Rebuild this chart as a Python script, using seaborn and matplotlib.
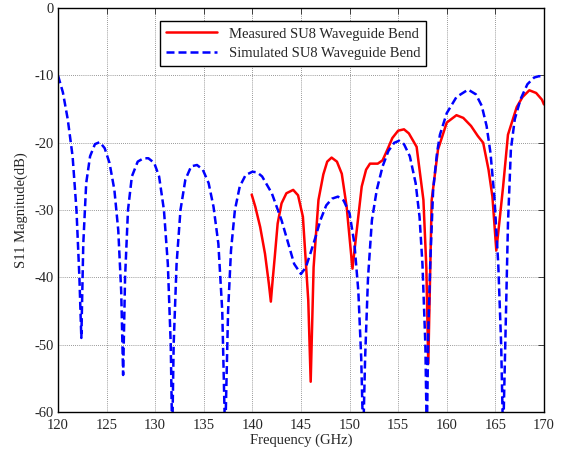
import numpy as np
import pandas as pd
import seaborn as sns
import matplotlib.pyplot as plt

# Simulated S11
sim_freq = [120.0, 120.5, 121.0, 121.5, 121.9, 122.2, 122.4,
            122.6, 122.9, 123.3, 123.8, 124.3, 124.8, 125.3, 125.8, 126.2, 126.5, 126.7,
            126.9, 127.2, 127.6, 128.2, 128.8, 129.3, 129.9, 130.4, 130.9, 131.3, 131.6, 131.75,
            131.9, 132.2, 132.6, 133.1, 133.7, 134.3, 134.9, 135.5, 136.0, 136.5, 136.9, 137.2,
            137.5, 137.8, 138.2, 138.7, 139.3, 140.0, 140.5, 141.0, 142.0, 143.0, 143.7, 144.3, 145.0,
            145.5, 146.0, 146.5, 147.0, 147.6, 148.2, 148.8, 149.4, 150.0, 150.5, 150.9, 151.2, 151.4,
            151.6, 151.9, 152.3, 152.8, 153.4, 154.0, 154.6, 155.1, 155.6, 156.2, 156.8, 157.2, 157.5, 157.8, 157.95,
            158.1, 158.3, 158.6, 159.0, 159.3, 160.0, 161.0, 162.2, 163.0, 163.6, 164.1, 164.5, 164.9, 165.3, 165.6, 165.8,
            166.1, 166.3, 166.6, 167.0, 167.6, 168.3, 169.0, 169.5, 170.0]
sim_s11 = [-10.0, -12.5, -16.5, -22.0, -30.0, -40.0, -49.0,
           -35.0, -26.0, -22.0, -20.2, -19.9, -20.8, -23.0, -27.0, -33.0, -42.0, -54.5,
           -40.0, -30.0, -25.0, -22.8, -22.3, -22.3, -23.0, -25.0, -30.0, -38.0, -50.0, -64.0,
           -50.0, -38.0, -30.0, -25.5, -23.5, -23.3, -24.0, -26.0, -29.5, -35.0, -45.0, -64.0,
           -45.0, -36.0, -30.0, -26.5, -24.8, -24.3, -24.4, -25.0, -27.5, -31.5, -35.0, -38.0, -39.5,
           -38.5, -36.3, -34.0, -31.5, -29.3, -28.3, -28.0, -28.6, -30.5, -35.0, -42.0, -52.0, -64.0,
           -52.0, -40.0, -31.5, -27.0, -23.5, -21.2, -20.0, -19.7, -20.2, -22.0, -26.0, -31.0, -38.0, -50.0, -64.0,
           -48.0, -38.0, -27.0, -21.5, -18.8, -15.6, -13.2, -12.1, -12.8, -14.5, -17.5, -21.5, -28.0, -38.0, -50.0, -64.0,
           -45.0, -32.0, -21.0, -16.5, -13.5, -11.3, -10.3, -10.1, -10.2]

# Measured S11
meas_freq = [139.93, 140.3, 140.8, 141.3, 141.7, 141.9, 142.05, 142.3, 142.6, 143.0, 143.5, 144.2,
             144.7, 145.2, 145.75, 146.0, 146.3, 146.8, 147.3, 147.7, 148.15, 148.7, 149.2, 149.7, 150.3,
             150.7, 151.25, 151.7, 152.1, 152.9, 153.4, 153.9, 154.4, 155.0, 155.6, 156.1, 156.9, 157.6, 157.9, 158.1,
             158.45, 159.1, 160.0, 161.0, 161.7, 162.5, 163.2, 163.75, 164.3, 164.7, 165.1,
             165.4, 165.8, 166.3, 167.2, 167.8, 168.5, 169.2, 169.8, 170.0]
meas_s11 = [-27.7, -29.5, -32.5, -36.5, -41.0, -43.6, -41.0, -37.0, -32.0, -29.0, -27.5, -27.0,
            -27.8, -31.0, -43.4, -55.5, -38.5, -28.5, -24.7, -22.8, -22.2, -22.8, -24.6, -29.5, -38.7,
            -33.5, -26.5, -24.0, -23.1, -23.1, -22.6, -21.0, -19.3, -18.2, -18.0, -18.6, -20.6, -28.5, -38.5, -52.8,
            -28.5, -21.0, -17.0, -15.9, -16.3, -17.5, -19.0, -20.0, -24.0, -28.0, -36.0,
            -32.0, -26.5, -18.8, -14.7, -13.2, -12.2, -12.6, -13.6, -14.3]

df_meas = pd.DataFrame({"freq": meas_freq, "s11": meas_s11})
df_sim = pd.DataFrame({"freq": sim_freq, "s11": sim_s11})

sns.set_style("white")
plt.rcParams['font.family'] = ['Liberation Serif', 'DejaVu Serif']
plt.rcParams['axes.unicode_minus'] = False

fig = plt.figure(figsize=(5.66, 4.54), dpi=100)
ax = fig.add_axes([0.1025, 0.0925, 0.8585, 0.8895])

sns.lineplot(data=df_meas, x="freq", y="s11", ax=ax, color="red", lw=1.8,
             label="Measured SU8 Waveguide Bend", sort=False)
sns.lineplot(data=df_sim, x="freq", y="s11", ax=ax, color="blue", lw=1.8,
             linestyle=(0, (3.2, 1.6)), label="Simulated SU8 Waveguide Bend", sort=False)

ax.set_xlim(120, 170)
ax.set_ylim(-60, 0)
ax.set_xticks(np.arange(120, 171, 5))
ax.set_yticks(np.arange(-60, 1, 10))
ax.grid(True, color="#777777", linestyle=(0, (1, 1.5)), linewidth=0.6)
ax.tick_params(direction="in", top=True, right=True, length=4, width=0.6, labelsize=10.5, pad=3)
ax.tick_params(axis="x", pad=5)
for s in ax.spines.values():
    s.set_color("black")
    s.set_linewidth(1.0)
ax.set_xlabel("Frequency (GHz)", fontsize=10.5, labelpad=1)
ax.set_ylabel("S11 Magnitude(dB)", fontsize=10.5, labelpad=5)

leg = ax.legend(loc="upper left", bbox_to_anchor=(0.21, 0.967), fancybox=False,
                edgecolor="black", framealpha=1, fontsize=10.5, handlelength=3.5,
                borderpad=0.4, labelspacing=0.45, borderaxespad=0)
leg.get_frame().set_linewidth(1.0)

fig.savefig("out.png", dpi=100)
